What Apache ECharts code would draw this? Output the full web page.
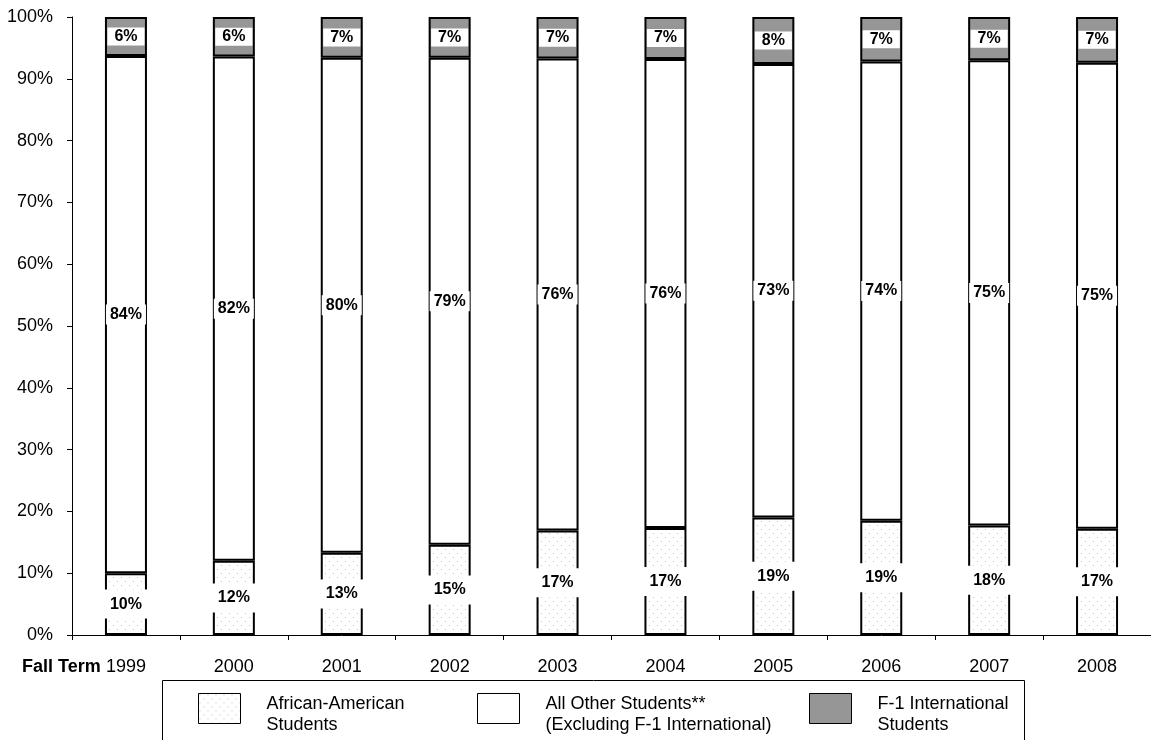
<!DOCTYPE html>
<html>
<head>
<meta charset="utf-8">
<script src="https://cdn.jsdelivr.net/npm/echarts@6/dist/echarts.min.js"></script>
<style>html,body{margin:0;padding:0;background:#fff;}#c{width:1151px;height:740px;}</style>
</head>
<body>
<div id="c"></div>
<script>
const years = ['1999','2000','2001','2002','2003','2004','2005','2006','2007','2008'];
const africanAmerican = [10.0, 12.0, 13.3, 14.6, 16.9, 17.3, 19.0, 18.5, 17.7, 17.2];
const allOther = [83.7, 81.6, 80.1, 78.8, 76.4, 75.9, 73.4, 74.3, 75.3, 75.4];
const f1Intl = [6.3, 6.4, 6.6, 6.6, 6.7, 6.8, 7.6, 7.2, 7.0, 7.4];
const names = ['African-American\nStudents', 'All Other Students**\n(Excluding F-1 International)', 'F-1 International\nStudents'];

const FONT = "'Liberation Sans', Arial, sans-serif";
const cv = document.createElement('canvas');
cv.width = 8; cv.height = 8;
const cx = cv.getContext('2d');
cx.fillStyle = '#fff'; cx.fillRect(0,0,8,8);
cx.fillStyle = '#c4c4c4';
cx.fillRect(1,1,1,1); cx.fillRect(5,5,1,1);
const dots = {image: cv, repeat: 'repeat'};

const fmt = p => Math.round(p.value) + '%';
function lbl(pad){
  return {show:true, position:'inside', formatter:fmt, color:'#000', fontFamily:FONT,
    fontWeight:'bold', fontSize:16, backgroundColor:'#fff', padding:pad};
}
function legend(name, left){
  return {data:[name], left:left, top:676, orient:'horizontal', icon:'rect',
    itemWidth:42, itemHeight:30, selectedMode:false,
    formatter: n => '{s| }\n' + n,
    itemStyle:{borderColor:'#000', borderWidth:1},
    textStyle:{fontFamily:FONT, fontSize:18, lineHeight:21, color:'#000', padding:[0,0,0,21],
      rich:{s:{fontSize:8, lineHeight:13}}}};
}
const chart = echarts.init(document.getElementById('c'));
chart.setOption({
  animation:false,
  backgroundColor:'#fff',
  grid:{left:72, top:17, width:1084, height:618},
  xAxis:{type:'category', data:years,
    axisLine:{lineStyle:{color:'#000', width:1}},
    axisTick:{show:true, length:5, lineStyle:{color:'#000'}},
    axisLabel:{fontFamily:FONT, fontSize:18, color:'#000', margin:23}},
  yAxis:{type:'value', min:0, max:100, interval:10,
    splitLine:{show:false},
    axisLine:{show:true, lineStyle:{color:'#000', width:1}},
    axisTick:{show:true, length:5, lineStyle:{color:'#000'}},
    axisLabel:{formatter:'{value}%', fontFamily:FONT, fontSize:18, color:'#000', margin:19}},
  legend:[legend(names[0],193), legend(names[1],472), legend(names[2],804)],
  graphic:[
    {type:'rect', shape:{x:162.5, y:680.5, width:862, height:70}, style:{fill:'none', stroke:'#000', lineWidth:1}, z:-1},
    {type:'text', left:22, top:658, style:{text:'Fall Term', font:"bold 18px 'Liberation Sans', Arial, sans-serif", fill:'#000'}}
  ],
  series:[
    {name:names[0], type:'bar', stack:'s', data:africanAmerican, barWidth:42,
      itemStyle:{color:dots, borderColor:'#000', borderWidth:2}, label:lbl([8,8,5,8])},
    {name:names[1], type:'bar', stack:'s', data:allOther, barWidth:42,
      itemStyle:{color:'#fff', borderColor:'#000', borderWidth:2}, label:lbl([2,4])},
    {name:names[2], type:'bar', stack:'s', data:f1Intl, barWidth:42,
      itemStyle:{color:'#969696', borderColor:'#000', borderWidth:2}, label:lbl([2,7,0,7])}
  ]
});
</script>
</body>
</html>
